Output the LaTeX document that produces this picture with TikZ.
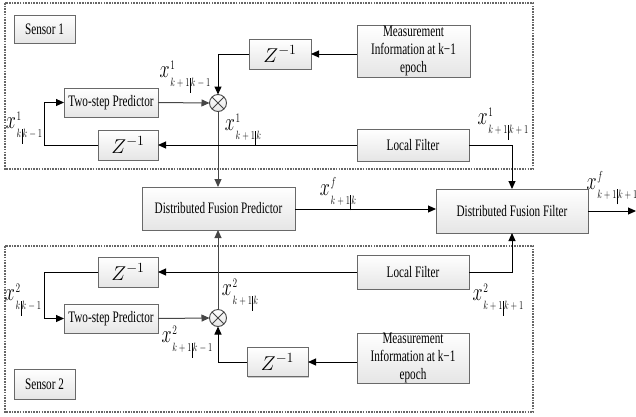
\RequirePackage{fix-cm}
\documentclass[tikz,border=0pt]{standalone}
\usepackage{fontspec}
\setmainfont[FakeStretch=0.7]{Liberation Serif}
\usetikzlibrary{arrows.meta,shadows,calc}
\newcommand{\vbar}{\rule[-6pt]{0.6pt}{15pt}}
\newcommand{\lbl}[3]{\scalebox{0.72}[1]{\fontsize{25}{25}\selectfont$x$\kern1pt\rlap{\raisebox{8.5pt}{\fontsize{13}{13}\selectfont$#1$}}\raisebox{-9pt}{\fontsize{12}{12}\selectfont$#2\mkern1mu\vbar\mkern1mu#3$}}}
\definecolor{bordc}{RGB}{105,105,105}
\definecolor{linec}{RGB}{70,70,70}
\begin{document}
\begin{tikzpicture}[x=1pt,y=-1pt,
  blk/.style={draw=bordc,line width=0.8pt,top color=white,bottom color=black!10,
    inner sep=0pt,outer sep=0pt,align=center,font=\fontsize{16}{18}\selectfont,
    drop shadow={shadow xshift=1pt,shadow yshift=-1pt,fill=black!35,opacity=0.6}},
  zblk/.style={blk,font=\fontsize{20}{22}\selectfont},
  sensor/.style={dash pattern=on 1.6pt off 1.1pt,draw=black!60,line width=1.1pt},
  arr/.style={draw=black,line width=1pt,-{Triangle[length=8pt,width=7pt]}},
  garr/.style={draw=linec,line width=1pt,-{Triangle[length=8pt,width=7pt]}},
  otim/.style={circle,draw=linec,line width=0.9pt,minimum size=17pt,inner sep=0pt,outer sep=0pt,
    top color=white,bottom color=black!10,
    path picture={\draw[linec,line width=0.8pt] (path picture bounding box.north west)--(path picture bounding box.south east)
      (path picture bounding box.north east)--(path picture bounding box.south west);}},
  lab/.style={inner sep=0pt}
]
\useasboundingbox (0,0) rectangle (636,416);
% sensor frames
\draw[sensor] (5,3) rectangle (533,169);
\draw[sensor] (5,246) rectangle (533,412);

% top sensor
\node[blk,minimum width=61pt,minimum height=28pt] (sens1) at (44.5,29) {Sensor 1};
\node[zblk,minimum width=62pt,minimum height=30pt] (z1a) at (280,54) {$Z^{-1}$};
\node[blk,minimum width=113pt,minimum height=52pt] (meas1) at (413.5,51) {Measurement\\Information at k−1\\epoch};
\node[blk,minimum width=94pt,minimum height=29pt] (tsp1) at (111,102.5) {Two-step Predictor};
\node[otim] (ot1) at (218,103) {};
\node[zblk,minimum width=60pt,minimum height=30pt] (z1b) at (128,145) {$Z^{-1}$};
\node[blk,minimum width=112pt,minimum height=32pt] (lf1) at (413,145) {Local Filter};

% fusion
\node[blk,minimum width=153pt,minimum height=43pt] (dfp) at (218.5,208.5) {Distributed Fusion Predictor};
\node[blk,minimum width=152pt,minimum height=44pt] (dff) at (512,211) {Distributed Fusion Filter};
\coordinate (out) at (636,211);

% bottom sensor
\node[zblk,minimum width=60pt,minimum height=30pt] (z2b) at (128,272) {$Z^{-1}$};
\node[blk,minimum width=112pt,minimum height=34pt] (lf2) at (413,272) {Local Filter};
\node[blk,minimum width=94pt,minimum height=29pt] (tsp2) at (111,318.5) {Two-step Predictor};
\node[otim] (ot2) at (218,318) {};
\node[zblk,minimum width=61pt,minimum height=29pt] (z2a) at (277.5,362) {$Z^{-1}$};
\node[blk,minimum width=112pt,minimum height=50pt] (meas2) at (413,358) {Measurement\\Information at k−1\\epoch};
\node[blk,minimum width=61pt,minimum height=30pt] (sens2) at (44.5,384) {Sensor 2};

% connectors top
\draw[arr] (meas1.west|-z1a.east) -- (z1a.east);
\draw[arr] (z1a.west) -| (ot1.north);
\draw[garr] (tsp1.east) -- (ot1.west);
\draw[garr] (ot1.south) -- (dfp.north-|ot1.south);
\draw[arr] (lf1.west) -- (z1b.east|-lf1.west);
\draw[arr] (z1b.west) -| ([xshift=-20pt]tsp1.west) -- (tsp1.west);
\draw[arr] (lf1.east) -| (dff.north);

% connectors fusion
\draw[arr] (dfp.east|-0,209) -- (dff.west|-0,209);
\draw[arr] (dff.east) -- (out);

% connectors bottom
\draw[arr] (lf2.west) -- (z2b.east|-lf2.west);
\draw[arr] (z2b.west) -| ([xshift=-20pt]tsp2.west) -- (tsp2.west);
\draw[garr] (tsp2.east) -- (ot2.west);
\draw[arr] (z2a.west) -| (ot2.south);
\draw[arr] (meas2.west|-z2a.east) -- (z2a.east);
\draw[garr] (ot2.north) -- (dfp.south-|ot2.north);
\draw[arr] (lf2.east) -| (dff.south);

% labels
\node[lab] (l1) at (185,77) {\lbl{1}{k+1}{k-1}};
\node[lab] (l2) at (24,128) {\lbl{1}{k}{k-1}};
\node[lab] (l3) at (243,130) {\lbl{1}{k+1}{k}};
\node[lab] (l4) at (503,124) {\lbl{1}{k+1}{k+1}};
\node[lab] (l5) at (338,194) {\lbl{f}{k+1}{k}};
\node[lab] (l6) at (612,188) {\lbl{f}{k+1}{k+1}};
\node[lab] (l7) at (23,300) {\lbl{2}{k}{k-1}};
\node[lab] (l8) at (240,295) {\lbl{2}{k+1}{k}};
\node[lab] (l9) at (187,342) {\lbl{2}{k+1}{k-1}};
\node[lab] (l10) at (498,300) {\lbl{2}{k+1}{k+1}};
\end{tikzpicture}
\end{document}
